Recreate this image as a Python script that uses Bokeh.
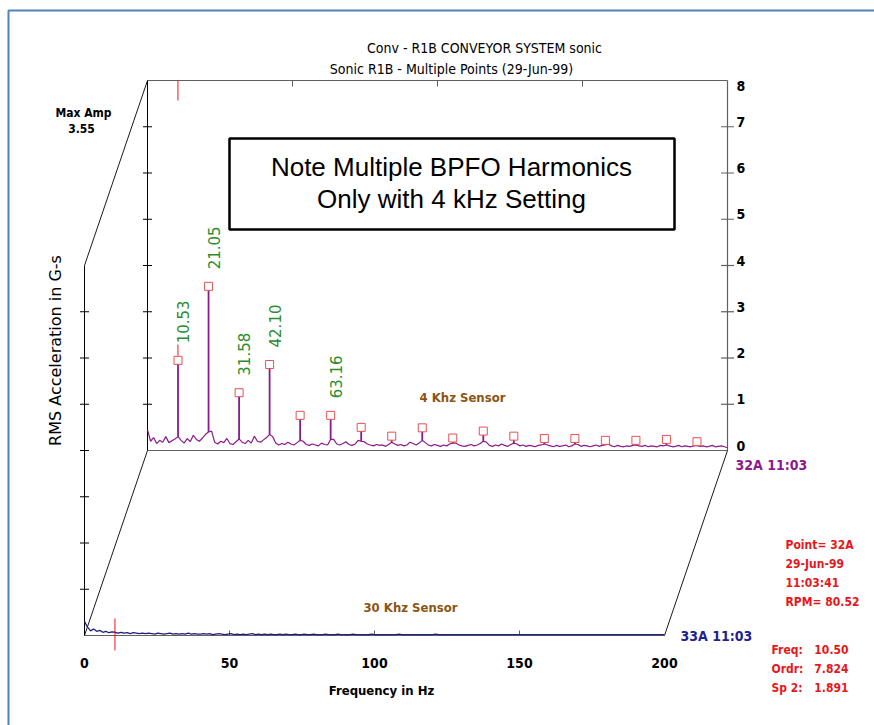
import numpy as np
from bokeh.plotting import figure
from bokeh.models import Range1d
from bokeh.core.properties import value
from bokeh.embed import file_html
from bokeh.resources import INLINE

# ---------------- data ----------------
# spectral line grid: 191 lines from 0 to 200 Hz (BPFO = 10.526 Hz -> every 10th line)
freq = np.linspace(0.0, 200.0, 191)

# 4 kHz sensor (point 32A), broadband floor in G-s RMS
amp_4k = [
    0.45, 0.20, 0.28, 0.15, 0.22, 0.18, 0.30, 0.17, 0.21, 0.25,
    0.30, 0.22, 0.16, 0.26, 0.19, 0.33, 0.24, 0.20, 0.27, 0.35,
    0.40, 0.42, 0.18, 0.14, 0.20, 0.17, 0.26, 0.15, 0.13, 0.19,
    0.25, 0.18, 0.15, 0.22, 0.16, 0.31, 0.20, 0.18, 0.23, 0.28,
    0.35, 0.30, 0.16, 0.12, 0.15, 0.13, 0.18, 0.14, 0.12, 0.17,
    0.22, 0.20, 0.13, 0.11, 0.14, 0.12, 0.10, 0.16, 0.13, 0.12,
    0.24, 0.24, 0.14, 0.12, 0.15, 0.19, 0.13, 0.11, 0.14, 0.22,
    0.20, 0.19, 0.14, 0.12, 0.10, 0.13, 0.11, 0.12, 0.09, 0.13,
    0.18, 0.14, 0.11, 0.13, 0.10, 0.12, 0.18, 0.15, 0.12, 0.16,
    0.22, 0.17, 0.12, 0.10, 0.13, 0.11, 0.09, 0.12, 0.10, 0.14,
    0.16, 0.16, 0.12, 0.10, 0.09, 0.11, 0.13, 0.10, 0.12, 0.15,
    0.20, 0.18, 0.11, 0.09, 0.12, 0.10, 0.14, 0.11, 0.09, 0.13,
    0.16, 0.14, 0.10, 0.12, 0.09, 0.11, 0.10, 0.08, 0.11, 0.12,
    0.14, 0.12, 0.10, 0.08, 0.11, 0.09, 0.10, 0.12, 0.08, 0.10,
    0.14, 0.13, 0.09, 0.11, 0.10, 0.08, 0.10, 0.12, 0.09, 0.11,
    0.12, 0.14, 0.10, 0.08, 0.11, 0.09, 0.08, 0.10, 0.09, 0.11,
    0.12, 0.10, 0.09, 0.11, 0.08, 0.10, 0.09, 0.08, 0.11, 0.10,
    0.12, 0.10, 0.08, 0.09, 0.11, 0.08, 0.10, 0.09, 0.08, 0.10,
    0.11, 0.09, 0.10, 0.08, 0.09, 0.11, 0.08, 0.09, 0.10, 0.08,
    0.06,
]

# 30 kHz sensor (point 33A), G-s RMS
amp_30k = [
    0.30, 0.18, 0.10, 0.14, 0.09, 0.11, 0.07, 0.09, 0.06, 0.08,
    0.07, 0.05, 0.07, 0.05, 0.06, 0.04, 0.06, 0.05, 0.04, 0.05,
    0.04, 0.05, 0.04, 0.03, 0.05, 0.04, 0.03, 0.04, 0.05, 0.03,
    0.04, 0.03, 0.04, 0.03, 0.05, 0.03, 0.04, 0.03, 0.03, 0.04,
    0.03, 0.04, 0.02, 0.03, 0.04, 0.03, 0.02, 0.03, 0.04, 0.02,
    0.03, 0.02, 0.03, 0.02, 0.03, 0.04, 0.02, 0.03, 0.02, 0.03,
    0.02, 0.03, 0.02, 0.02, 0.03, 0.02, 0.03, 0.02, 0.02, 0.03,
    0.02, 0.02, 0.03, 0.02, 0.02, 0.03, 0.02, 0.02, 0.02, 0.03,
    0.02, 0.02, 0.02, 0.03, 0.02, 0.02, 0.02, 0.02, 0.03, 0.02,
    0.02, 0.02, 0.02, 0.02, 0.03, 0.02, 0.02, 0.02, 0.02, 0.02,
    0.02, 0.02, 0.02, 0.03, 0.02, 0.02, 0.02, 0.02, 0.02, 0.02,
    0.02, 0.02, 0.02, 0.02, 0.02, 0.03, 0.02, 0.02, 0.02, 0.02,
    0.02, 0.02, 0.02, 0.02, 0.02, 0.02, 0.02, 0.02, 0.02, 0.02,
    0.02, 0.02, 0.02, 0.02, 0.02, 0.02, 0.02, 0.02, 0.02, 0.02,
    0.02, 0.02, 0.02, 0.02, 0.02, 0.02, 0.02, 0.02, 0.02, 0.02,
    0.02, 0.02, 0.02, 0.02, 0.02, 0.02, 0.02, 0.02, 0.02, 0.02,
    0.02, 0.02, 0.02, 0.02, 0.02, 0.02, 0.02, 0.02, 0.02, 0.02,
    0.02, 0.02, 0.02, 0.02, 0.02, 0.02, 0.02, 0.02, 0.02, 0.02,
    0.02, 0.02, 0.02, 0.02, 0.02, 0.02, 0.02, 0.02, 0.02, 0.02,
    0.02,
]

# BPFO harmonic peaks on the 4 kHz spectrum
harm_freq = [10.53, 21.05, 31.58, 42.10, 52.63, 63.16, 73.68, 84.21, 94.74,
             105.26, 115.79, 126.32, 136.84, 147.37, 157.89, 168.42, 178.95, 189.47]
harm_amp = [1.95, 3.55, 1.25, 1.86, 0.76, 0.76, 0.50, 0.31, 0.49,
            0.27, 0.42, 0.31, 0.26, 0.26, 0.22, 0.22, 0.24, 0.19]
label_freq = [10.53, 21.05, 31.58, 42.10, 63.16]
label_amp = [1.95, 3.55, 1.25, 1.86, 0.76]
label_text = ["10.53", "21.05", "31.58", "42.10", "63.16"]

freq_ticks = [0, 50, 100, 150, 200]
freq_tick_labels = ["0", "50", "100", "150", "200"]
amp_ticks = [0, 1, 2, 3, 4, 5, 6, 7, 8]
amp_tick_labels = ["0", "1", "2", "3", "4", "5", "6", "7", "8"]

cursor_freq = 10.50
max_amp = 3.55

# ---------------- geometry ----------------
W, H = 874, 725
PX_HZ = 2.9        # pixels per Hz
PX_G = 46.25       # pixels per G
X0, Y0 = 84, 635   # pixel position of front-plane origin
DH = 63 / PX_HZ    # depth offset of back plane, Hz units
DG = 4.0           # depth offset of back plane, G units
FMAX = 200.0
AMAX = 8.0
DF = 200.0 / 190


def X(px):
    return (px - X0) / PX_HZ


def Y(py):
    return (Y0 - py) / PX_G


p = figure(width=W, height=H, output_backend="svg", toolbar_location=None,
           x_range=Range1d(X(0), X(W)), y_range=Range1d(Y(H), Y(0)),
           min_border=0, min_border_left=0, min_border_right=0,
           min_border_top=0, min_border_bottom=0)
p.xaxis.visible = False
p.yaxis.visible = False
p.grid.visible = False
p.outline_line_color = None
p.background_fill_color = "white"
p.border_fill_color = "white"

NARROW = "DejaVu Sans Condensed, Roboto, Liberation Sans"
SANS = "Liberation Sans"
AX = "#606060"

# page border (blue)
p.line([X(8), X(8), X(W + 10)], [Y(H + 10), Y(10), Y(10)], line_color="#4F81BD", line_width=2)

# ---------- frame of the 3D waterfall ----------
back_x0, back_x1 = DH, FMAX + DH
p.line([back_x0, back_x0], [DG, DG + AMAX], line_color="black", line_width=1)
p.line([back_x0, back_x1], [DG + AMAX, DG + AMAX], line_color=AX, line_width=1.2)
p.line([back_x0, back_x1], [DG, DG], line_color=AX, line_width=1.2)
p.line([back_x1, back_x1], [DG, DG + AMAX], line_color=AX, line_width=1.2)
p.line([0, 0], [0, AMAX], line_color="black", line_width=1)
p.line([0, FMAX], [0, 0], line_color=AX, line_width=1.2)
p.segment(x0=[0, 0, FMAX], y0=[AMAX, 0, 0], x1=[DH, DH, FMAX + DH], y1=[DG + AMAX, DG, DG],
          line_color="black", line_width=0.9)

inner = [a for a in amp_ticks if 0 < a < AMAX]
p.scatter([0] * len(inner), inner, marker="dash", size=9, line_color="black", line_width=1)
p.scatter([DH] * len(inner), [a + DG for a in inner], marker="dash", size=9, line_color="black", line_width=1)
p.scatter([FMAX + DH] * len(inner), [a + DG for a in inner], marker="dash", size=13, line_color=AX, line_width=1.2)
mid_f = [f for f in freq_ticks if 0 < f < FMAX]
p.segment(x0=[f + DH for f in mid_f], y0=[DG + AMAX] * len(mid_f),
          x1=[f + DH for f in mid_f], y1=[DG + AMAX - 6 / PX_G] * len(mid_f), line_color=AX, line_width=1)
p.segment(x0=mid_f, y0=[0] * len(mid_f), x1=mid_f, y1=[5 / PX_G] * len(mid_f), line_color=AX, line_width=1)

# ---------- spectra ----------
PURPLE = "#8B1A8B"
p.line(freq + DH, np.array(amp_4k) + DG, line_color=PURPLE, line_width=1.2)
h_idx = [int(round(f / DF)) for f in harm_freq]
p.segment(x0=[freq[i] + DH for i in h_idx], y0=[amp_4k[i] + DG for i in h_idx],
          x1=[freq[i] + DH for i in h_idx], y1=[a + DG for a in harm_amp],
          line_color=PURPLE, line_width=1.8)
p.line(freq, amp_30k, line_color="#1F1F80", line_width=1.3)

# cursor (red)
RED = "#E8161A"
p.segment(x0=[cursor_freq + DH, cursor_freq, cursor_freq + DH],
          y0=[DG + AMAX, 17 / PX_G, DG + label_amp[0] + 0.1],
          x1=[cursor_freq + DH, cursor_freq, cursor_freq + DH],
          y1=[DG + AMAX - 20 / PX_G, -15 / PX_G, DG + label_amp[0] + 0.34],
          line_color=RED, line_width=1)

# harmonic markers
p.scatter([freq[i] + DH for i in h_idx], [a + DG for a in harm_amp], marker="square", size=8,
          fill_color="white", line_color="#E85050", line_width=1)

# harmonic labels (green, rotated)
p.text([f + DH + 5 / PX_HZ for f in label_freq], [a + DG + 17 / PX_G for a in label_amp], text=label_text,
       angle=np.pi / 2, text_align="left", text_baseline="middle",
       text_font=value("DejaVu Sans"), text_font_size="15px", text_color="#2E8B2E")

# ---------- axis labels ----------
p.text([f for f in freq_ticks], [Y(662)] * len(freq_ticks), text=freq_tick_labels,
       text_align="center", text_baseline="middle", text_font=value(NARROW),
       text_font_size="14px", text_font_style="bold", text_color="black")
p.text([back_x1 + 9 / PX_HZ] * 8, [a + DG for a in amp_ticks[:8]], text=amp_tick_labels[:8],
       text_align="left", text_baseline="bottom", text_font=value(NARROW),
       text_font_size="14px", text_font_style="bold", text_color="black")
p.text([back_x1 + 9 / PX_HZ], [amp_ticks[8] + DG], text=[amp_tick_labels[8]],
       text_align="left", text_baseline="top", text_font=value(NARROW),
       text_font_size="14px", text_font_style="bold", text_color="black")
p.text([X(381)], [Y(690)], text=["Frequency in Hz"], text_align="center", text_baseline="middle",
       text_font=value(NARROW), text_font_size="13px", text_font_style="bold", text_color="black")
p.text([X(55)], [Y(350)], text=["RMS Acceleration in G-s"], angle=np.pi / 2,
       text_align="center", text_baseline="middle",
       text_font=value("DejaVu Sans"), text_font_size="16px", text_color="black")

# titles
p.text([X(484)], [Y(47)], text=["Conv - R1B CONVEYOR SYSTEM sonic"], text_align="center",
       text_baseline="middle", text_font=value(NARROW), text_font_size="14px", text_color="black")
p.text([X(457)], [Y(68)], text=["Sonic R1B  - Multiple Points   (29-Jun-99)"], text_align="center",
       text_baseline="middle", text_font=value(NARROW), text_font_size="14px", text_color="black")

# max amp
p.text([X(83), X(81)], [Y(112), Y(128)], text=["Max Amp", f"{max_amp:.2f}"], text_align="center",
       text_baseline="middle", text_font=value(NARROW), text_font_size="12px",
       text_font_style="bold", text_color="black")

# note box
p.quad(left=[X(229)], right=[X(674)], top=[Y(138)], bottom=[Y(229)], fill_color="white",
       line_color="black", line_width=2.5)
p.text([X(451), X(451)], [Y(166), Y(198)],
       text=["Note Multiple BPFO Harmonics", "Only with 4 kHz Setting"],
       text_align="center", text_baseline="middle", text_font=value(SANS),
       text_font_size="26px", text_color="black")

# sensor labels
p.text([X(462), X(410)], [Y(397), Y(607)], text=["4 Khz Sensor", "30 Khz Sensor"],
       text_align="center", text_baseline="middle", text_font=value(NARROW),
       text_font_size="13px", text_font_style="bold", text_color="#8B5513")

# trace labels
p.text([back_x1 + 8 / PX_HZ], [DG - 14 / PX_G], text=["32A  11:03"], text_align="left",
       text_baseline="middle", text_font=value(NARROW), text_font_size="14px",
       text_font_style="bold", text_color=PURPLE)
p.text([FMAX + 16 / PX_HZ], [0], text=["33A  11:03"], text_align="left",
       text_baseline="middle", text_font=value(NARROW), text_font_size="14px",
       text_font_style="bold", text_color="#1F1F8F")

# info block (red)
p.text([X(785)] * 4, [Y(544), Y(563), Y(582), Y(601)],
       text=["Point= 32A", "29-Jun-99", "11:03:41", "RPM= 80.52"],
       text_align="left", text_baseline="middle", text_font=value(NARROW),
       text_font_size="12px", text_font_style="bold", text_color=RED)
p.text([X(771)] * 3, [Y(649), Y(668), Y(687)], text=["Freq:", "Ordr:", "Sp 2:"],
       text_align="left", text_baseline="middle", text_font=value(NARROW),
       text_font_size="12px", text_font_style="bold", text_color=RED)
p.text([X(848)] * 3, [Y(649), Y(668), Y(687)], text=[f"{cursor_freq:.2f}", "7.824", "1.891"],
       text_align="right", text_baseline="middle", text_font=value(NARROW),
       text_font_size="12px", text_font_style="bold", text_color=RED)

open("out.html", "w").write(file_html(p, INLINE))
